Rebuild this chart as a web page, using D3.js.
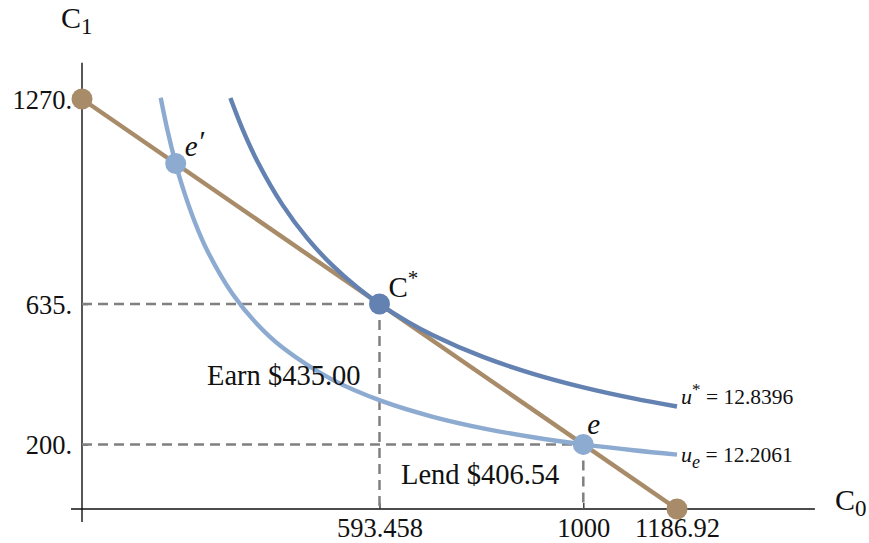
<!DOCTYPE html>
<html>
<head>
<meta charset="utf-8">
<script src="https://cdn.jsdelivr.net/npm/d3@7"></script>
<style>
  html, body { margin: 0; padding: 0; background: #ffffff; }
  svg { display: block; }
  text { font-family: "Liberation Serif", "Times New Roman", serif; fill: #111; }
</style>
</head>
<body>
<svg id="chart" width="869" height="543"></svg>
<script>
// ---------- data ----------
const budgetC0 = [0, 1186.92];
const budgetC1 = [1270, 0];

const uStarValue = "12.8396";
const uStarC0 = [296, 320, 350, 400, 450, 500, 550, 593.458, 650, 700, 800, 900, 1000, 1100, 1186.92];
const uStarC1 = [1273.1, 1177.6, 1076.7, 942.1, 837.4, 753.7, 685.2, 635, 579.8, 538.4, 471.1, 418.7, 376.8, 342.6, 317.5];

const uEValue = "12.2061";
const uEC0 = [157, 170, 186.92, 200, 225, 250, 300, 350, 400, 500, 600, 700, 800, 900, 1000, 1100, 1186.92];
const uEC1 = [1273.9, 1176.5, 1070.0, 1000, 888.9, 800, 666.7, 571.4, 500, 400, 333.3, 285.7, 250, 222.2, 200, 181.8, 168.5];

const pointNames = ["C*", "e", "e'"];
const pointC0 = [593.458, 1000, 186.92];
const pointC1 = [635, 200, 1070];

const xTickValues = [593.458, 1000, 1186.92];
const xTickLabels = ["593.458", "1000", "1186.92"];
const yTickValues = [1270, 635, 200];
const yTickLabels = ["1270.", "635.", "200."];

const earnText = "Earn $435.00";
const lendText = "Lend $406.54";

// ---------- layout ----------
const svg = d3.select("#chart");
const x = d3.scaleLinear().domain([0, 1186.92]).range([82, 677]);
const y = d3.scaleLinear().domain([0, 1270]).range([509, 99]);

const brown = "#a88b69";
const darkBlue = "#6381b1";
const lightBlue = "#8dabd1";
const dashGray = "#808080";

// axes lines
svg.append("line").attr("x1", x(-22)).attr("x2", x(1462)).attr("y1", y(0)).attr("y2", y(0))
  .attr("stroke", "#111").attr("stroke-width", 1.4);
svg.append("line").attr("x1", x(0)).attr("x2", x(0)).attr("y1", y(-40)).attr("y2", y(1382))
  .attr("stroke", "#111").attr("stroke-width", 1.4);

// ticks & labels via d3 axes
const xAxis = d3.axisBottom(x).tickValues(xTickValues)
  .tickFormat((d, i) => xTickLabels[i]).tickSizeInner(-6).tickSizeOuter(0).tickPadding(9);
const gx = svg.append("g").attr("transform", `translate(0,${y(0)})`).call(xAxis);
gx.select(".domain").remove();
gx.selectAll(".tick line").attr("stroke", "#333").attr("stroke-width", 1.4);
gx.selectAll(".tick text").attr("font-size", 26.5).attr("font-family", "Liberation Serif").attr("fill", "#111").attr("dy", "0.71em");

const yAxis = d3.axisLeft(y).tickValues(yTickValues)
  .tickFormat((d, i) => yTickLabels[i]).tickSizeInner(-6).tickSizeOuter(0).tickPadding(10);
const gy = svg.append("g").attr("transform", `translate(${x(0)},0)`).call(yAxis);
gy.select(".domain").remove();
gy.selectAll(".tick line").attr("stroke", "#333").attr("stroke-width", 1.4);
gy.selectAll(".tick text").attr("font-size", 26.5).attr("font-family", "Liberation Serif").attr("fill", "#111").attr("dy", "0.34em");

// dashed guides
const dash = svg.append("g").attr("stroke", dashGray).attr("stroke-width", 2.5).attr("stroke-dasharray", "10,6").attr("fill", "none");
[0, 1].forEach(i => {
  dash.append("line").attr("x1", x(0)).attr("x2", x(pointC0[i])).attr("y1", y(pointC1[i])).attr("y2", y(pointC1[i]));
  dash.append("line").attr("x1", x(pointC0[i])).attr("x2", x(pointC0[i])).attr("y1", y(pointC1[i])).attr("y2", y(0));
});

// budget line
const line = d3.line().x(d => x(d[0])).y(d => y(d[1]));
svg.append("path").datum(budgetC0.map((d, i) => [d, budgetC1[i]]))
  .attr("d", line).attr("fill", "none").attr("stroke", brown).attr("stroke-width", 4.4);

// indifference curves
const curve = d3.line().x(d => x(d[0])).y(d => y(d[1])).curve(d3.curveCatmullRom.alpha(0.5));
svg.append("path").datum(uEC0.map((d, i) => [d, uEC1[i]]))
  .attr("d", curve).attr("fill", "none").attr("stroke", lightBlue).attr("stroke-width", 4.4);
svg.append("path").datum(uStarC0.map((d, i) => [d, uStarC1[i]]))
  .attr("d", curve).attr("fill", "none").attr("stroke", darkBlue).attr("stroke-width", 4.4);

// budget endpoints
budgetC0.forEach((d, i) => {
  svg.append("circle").attr("cx", x(d)).attr("cy", y(budgetC1[i])).attr("r", 10.5).attr("fill", brown);
});

// points
const pointColors = [darkBlue, lightBlue, lightBlue];
pointC0.forEach((d, i) => {
  svg.append("circle").attr("cx", x(d)).attr("cy", y(pointC1[i])).attr("r", 10.5).attr("fill", pointColors[i]);
});

// point labels
const cs = svg.append("text").attr("x", x(pointC0[0]) + 9).attr("y", y(pointC1[0]) - 7).attr("font-size", 29);
cs.append("tspan").text("C");
cs.append("tspan").attr("dy", -12).attr("font-size", 21).text("*");

svg.append("text").attr("x", x(pointC0[1]) + 4).attr("y", y(pointC1[1]) - 10)
  .attr("font-size", 29).attr("font-style", "italic").text("e");

const ep = svg.append("text").attr("x", x(pointC0[2]) + 9).attr("y", y(pointC1[2]) - 8)
  .attr("font-size", 29).attr("font-style", "italic");
ep.append("tspan").text("e");
ep.append("tspan").attr("dx", 2).attr("dy", -5).attr("font-style", "normal").text("\u2032");

// annotation texts
svg.append("text").attr("x", 207).attr("y", 385).attr("font-size", 28.5).text(earnText);
svg.append("text").attr("x", 401).attr("y", 484).attr("font-size", 28.5).text(lendText);

// curve labels
const l1 = svg.append("text").attr("x", x(1186.92) + 4).attr("y", y(uStarC1[uStarC1.length - 1]) - 3).attr("font-size", 22);
l1.append("tspan").attr("font-style", "italic").text("u");
l1.append("tspan").attr("dy", -9).attr("font-size", 17).text("*");
l1.append("tspan").attr("dy", 9).attr("font-size", 21.5).text(" = " + uStarValue);

const l2 = svg.append("text").attr("x", x(1186.92) + 4).attr("y", y(uEC1[uEC1.length - 1]) + 7).attr("font-size", 22);
l2.append("tspan").attr("font-style", "italic").text("u");
l2.append("tspan").attr("dy", 6).attr("font-size", 18).attr("font-style", "italic").text("e");
l2.append("tspan").attr("dy", -6).attr("font-size", 21.5).text(" = " + uEValue);

// axis titles
const t1 = svg.append("text").attr("x", 61).attr("y", 28).attr("font-size", 30);
t1.append("tspan").text("C");
t1.append("tspan").attr("dy", 6).attr("font-size", 23).text("1");

const t0 = svg.append("text").attr("x", 835).attr("y", 510).attr("font-size", 30);
t0.append("tspan").text("C");
t0.append("tspan").attr("dy", 6).attr("font-size", 23).text("0");
</script>
</body>
</html>
